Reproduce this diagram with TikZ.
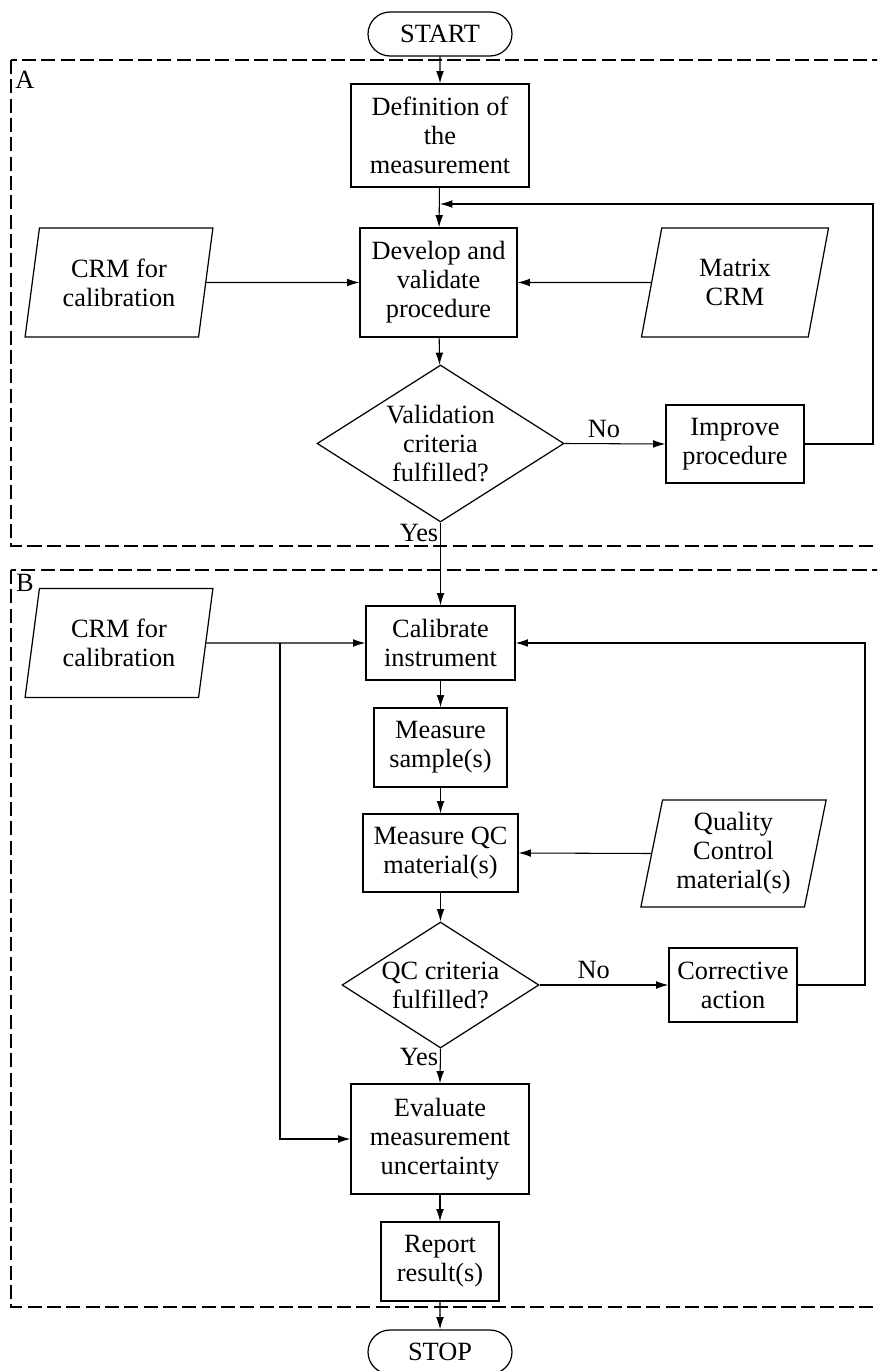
\documentclass[tikz,border=0pt]{standalone}
\usepackage{fontspec}
\setmainfont{Liberation Serif}
\usetikzlibrary{shapes.geometric,shapes.misc,arrows.meta}
\tikzset{
  box/.style={draw,line width=0.7pt,align=center,inner sep=0pt},
  term/.style={box,rounded rectangle,minimum width=2.88cm,minimum height=0.88cm},
  datain/.style={box,trapezium,trapezium left angle=78,trapezium right angle=102,
    trapezium stretches=true,minimum width=3.76cm,minimum height=2.18cm},
  decide/.style={box,diamond,inner sep=-3pt},
  zone/.style={line width=0.6pt,dash pattern=on 8pt off 3pt},
  arr/.style={-{Latex[length=7pt,width=4.4pt]},line width=0.6pt}
}
\begin{document}
\begin{tikzpicture}[x=0.02cm,y=-0.02cm,font=\fontsize{15}{16.5}\selectfont]
	\clip (0,0) rectangle (877,1371);
	% zones
	\draw[zone] (11,60) rectangle (900,546);
	\draw[zone] (11,570) rectangle (900,1307);
	\node (zA) at (25,80) {A};
	\node (zB) at (25,583) {B};
	% part A
	\node[term] (start) at (440,34) {START};
	\node[box,minimum width=3.56cm,minimum height=2.06cm] (def) at (440,135.5) {Definition of\\the\\measurement};
	\node[box,minimum width=3.14cm,minimum height=2.18cm] (dev) at (438.5,282.5) {Develop and\\validate\\procedure};
	\node[datain] (crmA) at (119,282.5) {CRM for\\calibration};
	\node[datain] (mat) at (735,282.5) {Matrix\\CRM};
	\node[decide,aspect=1.57,minimum width=4.94cm,minimum height=3.14cm] (valid) at (440.5,443.5) {Validation\\criteria\\fulfilled?};
	\node[box,minimum width=2.76cm,minimum height=1.56cm] (impr) at (735,444) {Improve\\procedure};
	\coordinate (loopA) at (873,204);
	\draw[arr] (start) -- (def);
	\draw[arr] (def) -- (dev);
	\draw[arr] (crmA.east) -- (dev.west);
	\draw[arr] (mat.west) -- (dev.east);
	\draw[arr] (dev) -- (valid);
	\draw[arr] (valid.east) -- node[above,pos=0.39] {No} (impr.west);
	\draw[arr] (impr.east) -| (loopA) -- (def.south |- loopA);
	% part B
	\node[box,minimum width=2.98cm,minimum height=1.48cm] (cal) at (440.5,643) {Calibrate\\instrument};
	\node[datain] (crmB) at (119,643) {CRM for\\calibration};
	\node[box,minimum width=2.66cm,minimum height=1.58cm] (samp) at (440.5,747.5) {Measure\\sample(s)};
	\node[box,minimum width=3.1cm,minimum height=1.56cm] (qc) at (440.5,853) {Measure QC\\material(s)};
	\node[datain,minimum width=3.74cm,minimum height=2.14cm] (qcm) at (733.5,853.5) {Quality\\Control\\material(s)};
	\node[decide,aspect=1.56,minimum width=3.94cm,minimum height=2.52cm] (qcok) at (440.5,985) {QC criteria\\fulfilled?};
	\node[box,minimum width=2.56cm,minimum height=1.48cm] (corr) at (733,985) {Corrective\\action};
	\node[box,minimum width=3.56cm,minimum height=2.2cm] (eval) at (440,1139) {Evaluate\\measurement\\uncertainty};
	\node[box,minimum width=2.36cm,minimum height=1.58cm] (rep) at (440,1261.5) {Report\\result(s)};
	\node[term] (stop) at (440,1352) {STOP};
	\coordinate (split) at (280,643);
	\coordinate (loopB) at (865,643);
	\draw[arr] (valid.south) -- node[pos=0.13,left,inner sep=1pt] {Yes} (cal.north);
	\draw[arr] (crmB.east) -- (cal.west);
	\draw[arr] (split) |- (eval.west);
	\draw[arr] (cal) -- (samp);
	\draw[arr] (samp) -- (qc);
	\draw[arr] (qcm.west) -- (qc.east);
	\draw[arr] (qc) -- (qcok);
	\draw[arr] (qcok.east) -- node[above,pos=0.42] {No} (corr.west);
	\draw[arr] (corr.east) -| (loopB) -- (cal.east);
	\draw[arr] (qcok.south) -- node[pos=0.25,left,inner sep=1pt] {Yes} (eval.north);
	\draw[arr] (eval) -- (rep);
	\draw[arr] (rep) -- (stop);
\end{tikzpicture}
\end{document}
